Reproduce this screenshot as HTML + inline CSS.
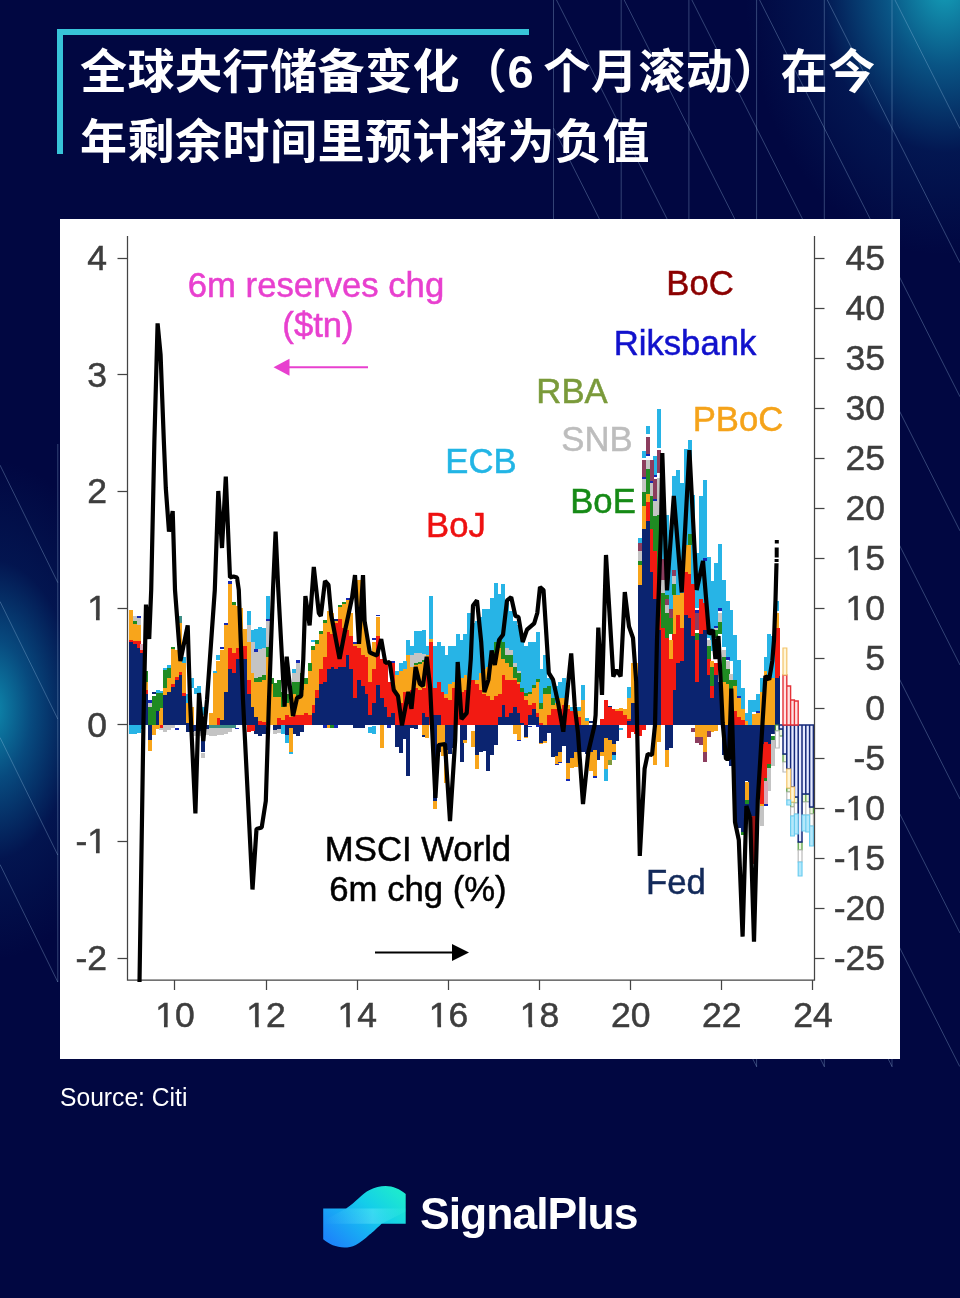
<!DOCTYPE html>
<html lang="zh-CN">
<head>
<meta charset="utf-8">
<title>全球央行储备变化</title>
<style>
*{margin:0;padding:0;box-sizing:border-box}
html,body{width:960px;height:1298px;overflow:hidden;background:#010741}
body{position:relative;font-family:"Liberation Sans","Noto Sans CJK SC",sans-serif}
.bg{position:absolute;left:0;top:0;width:960px;height:1298px;
 background:
  radial-gradient(ellipse 140px 250px at -8px 710px, rgba(14,138,174,1), rgba(10,98,148,.74) 28%, rgba(6,50,110,.32) 60%, rgba(3,8,64,0) 100%),
  radial-gradient(ellipse 200px 270px at 945px -15px, rgba(20,160,185,1), rgba(12,110,155,.75) 30%, rgba(6,55,115,.32) 62%, rgba(3,8,64,0) 100%),
  #010741}
.lines{position:absolute;left:0;top:0}
.brk-t{position:absolute;left:57px;top:29px;width:472px;height:6px;background:#38c4d8}
.brk-l{position:absolute;left:57px;top:29px;width:6px;height:125px;background:#38c4d8}
h1{position:absolute;left:80px;top:37px;width:860px;font-family:"Liberation Sans","Noto Sans CJK SC",sans-serif;
 font-weight:700;font-size:47px;line-height:70px;color:#fff;letter-spacing:0.5px;white-space:nowrap}
.six{letter-spacing:-1.7px}
.panel{position:absolute;left:60px;top:219px;width:840px;height:840px;background:#fff;overflow:hidden}
.chart{display:block}
.src{position:absolute;left:60px;top:1081px;font-size:26.5px;line-height:32px;color:#fff;white-space:nowrap;transform:scaleX(.93);transform-origin:0 0}
.logo{position:absolute;left:322px;top:1184px}
.brand{position:absolute;left:420px;top:1186.5px;font-weight:700;font-size:44.5px;line-height:54px;color:#fff;white-space:nowrap;letter-spacing:-1px}
</style>
</head>
<body>
<div class="bg"></div>
<svg class="lines" width="960" height="1298" viewBox="0 0 960 1298">
<g stroke="#a9cdf0" stroke-opacity=".3" stroke-width="1" fill="none">
<path d="M553.5 0V219"/>
<path d="M621.2 0V219"/>
<path d="M688.9 0V219"/>
<path d="M756.6 0V1067"/>
<path d="M824.3 0V1067"/>
<path d="M892.0 0V1067"/>
<path d="M553.5 932.5L617.4 1059.0"/>
<path d="M553.5 798.4L685.1 1059.0"/>
<path d="M553.5 664.4L756.6 1066.5"/>
<path d="M553.5 530.3L824.3 1066.5"/>
<path d="M553.5 396.2L892.0 1066.5"/>
<path d="M553.5 262.2L959.7 1066.5"/>
<path d="M553.5 128.1L960.0 933.1"/>
<path d="M556.5 0.0L960.0 799.0"/>
<path d="M624.2 0.0L960.0 665.0"/>
<path d="M691.9 0.0L960.0 530.9"/>
<path d="M759.6 0.0L960.0 396.8"/>
<path d="M827.3 0.0L960.0 262.8"/>
<path d="M895.0 0.0L960.0 128.7"/>
<path d="M57.8 444V982"/>
<path d="M0 465.1L57.8 582.6"/>
<path d="M0 601.5L57.8 719.0"/>
<path d="M0 737.5L57.8 855.0"/>
<path d="M0 864.5L57.8 982.0"/>
</g>
</svg>
<div class="brk-t"></div><div class="brk-l"></div>
<h1>全球央行储备变化（<span class="six">6 </span>个月滚动）在今<br>年剩余时间里预计将为负值</h1>
<div class="panel">
<svg class="chart" width="840" height="840" viewBox="60 219 840 840">
<g shape-rendering="crispEdges">
<path fill="#0b2470" d="M128.9 642.1h4.05V725.0h-4.05zM132.7 644.2h4.05V725.0h-4.05zM136.5 648.3h4.05V725.0h-4.05zM140.3 652.5h4.05V725.0h-4.05zM144.1 694.2h4.05V725.0h-4.05zM147.9 725.0h4.05V740.0h-4.05zM151.7 692.1h4.05V694.2h-4.05zM155.5 710.8h4.05V725.0h-4.05zM163.1 695.2h4.05V725.0h-4.05zM166.9 692.1h4.05V725.0h-4.05zM170.7 686.9h4.05V725.0h-4.05zM174.5 679.6h4.05V725.0h-4.05zM178.3 675.4h4.05V725.0h-4.05zM182.1 696.2h4.05V725.0h-4.05zM185.9 723.3h4.05V725.0h-4.05zM185.9 725.0h4.05V731.7h-4.05zM189.7 725.0h4.05V731.7h-4.05zM193.5 725.0h4.05V730.6h-4.05zM197.3 725.0h4.05V730.6h-4.05zM201.1 725.0h4.05V751.7h-4.05zM204.9 725.0h4.05V728.5h-4.05zM220.1 720.2h4.05V725.0h-4.05zM223.9 692.1h4.05V725.0h-4.05zM227.7 669.2h4.05V725.0h-4.05zM231.5 673.3h4.05V725.0h-4.05zM235.3 658.8h4.05V725.0h-4.05zM239.1 658.8h4.05V725.0h-4.05zM242.9 658.8h4.05V725.0h-4.05zM246.7 694.2h4.05V725.0h-4.05zM250.5 706.7h4.05V725.0h-4.05zM254.3 717.1h4.05V725.0h-4.05zM254.3 725.0h4.05V733.8h-4.05zM258.1 725.0h4.05V735.8h-4.05zM261.9 725.0h4.05V733.8h-4.05zM273.3 725.0h4.05V729.6h-4.05zM277.1 725.0h4.05V729.2h-4.05zM284.7 725.0h4.05V735.0h-4.05zM288.5 725.0h4.05V728.3h-4.05zM292.3 725.0h4.05V733.8h-4.05zM296.1 725.0h4.05V735.8h-4.05zM299.9 725.0h4.05V731.7h-4.05zM311.3 712.9h4.05V725.0h-4.05zM315.1 698.3h4.05V725.0h-4.05zM318.9 683.8h4.05V725.0h-4.05zM322.7 681.7h4.05V725.0h-4.05zM326.5 669.2h4.05V725.0h-4.05zM330.3 667.1h4.05V725.0h-4.05zM334.1 669.2h4.05V725.0h-4.05zM334.1 619.2h4.05V621.2h-4.05zM337.9 667.1h4.05V725.0h-4.05zM341.7 667.1h4.05V725.0h-4.05zM345.5 654.6h4.05V725.0h-4.05zM349.3 669.2h4.05V725.0h-4.05zM353.1 698.3h4.05V725.0h-4.05zM353.1 725.0h4.05V727.9h-4.05zM356.9 679.6h4.05V725.0h-4.05zM356.9 725.0h4.05V727.9h-4.05zM360.7 685.8h4.05V725.0h-4.05zM360.7 725.0h4.05V727.9h-4.05zM364.5 694.2h4.05V725.0h-4.05zM368.3 715.0h4.05V725.0h-4.05zM372.1 702.5h4.05V725.0h-4.05zM375.9 684.8h4.05V725.0h-4.05zM379.7 698.3h4.05V725.0h-4.05zM383.5 706.7h4.05V725.0h-4.05zM387.3 717.1h4.05V725.0h-4.05zM391.1 712.9h4.05V725.0h-4.05zM394.9 725.0h4.05V746.9h-4.05zM398.7 725.0h4.05V753.1h-4.05zM402.5 725.0h4.05V738.5h-4.05zM406.3 725.0h4.05V776.0h-4.05zM410.1 725.0h4.05V728.1h-4.05zM413.9 725.0h4.05V729.2h-4.05zM421.5 712.9h4.05V725.0h-4.05zM421.5 735.4h4.05V736.5h-4.05zM425.3 717.1h4.05V725.0h-4.05zM432.9 715.0h4.05V725.0h-4.05zM432.9 725.0h4.05V801.0h-4.05zM436.7 715.0h4.05V725.0h-4.05zM436.7 743.8h4.05V752.1h-4.05zM444.3 725.0h4.05V750.0h-4.05zM448.1 725.0h4.05V754.2h-4.05zM451.9 725.0h4.05V747.9h-4.05zM459.5 725.0h4.05V761.5h-4.05zM463.3 725.0h4.05V739.6h-4.05zM474.7 725.0h4.05V755.2h-4.05zM478.5 725.0h4.05V752.1h-4.05zM482.3 725.0h4.05V751.0h-4.05zM486.1 725.0h4.05V770.8h-4.05zM489.9 725.0h4.05V755.2h-4.05zM493.7 725.0h4.05V744.8h-4.05zM497.5 717.1h4.05V725.0h-4.05zM501.3 704.6h4.05V725.0h-4.05zM505.1 717.1h4.05V725.0h-4.05zM508.9 712.9h4.05V725.0h-4.05zM512.7 706.7h4.05V725.0h-4.05zM516.5 712.9h4.05V725.0h-4.05zM520.3 723.3h4.05V725.0h-4.05zM524.1 725.0h4.05V736.5h-4.05zM527.9 715.0h4.05V725.0h-4.05zM531.7 708.8h4.05V725.0h-4.05zM535.5 717.1h4.05V725.0h-4.05zM539.3 725.0h4.05V742.7h-4.05zM543.1 725.0h4.05V740.6h-4.05zM546.9 725.0h4.05V733.3h-4.05zM550.7 725.0h4.05V757.3h-4.05zM554.5 725.0h4.05V756.2h-4.05zM558.3 725.0h4.05V752.1h-4.05zM562.1 725.0h4.05V745.8h-4.05zM565.9 725.0h4.05V762.5h-4.05zM569.7 725.0h4.05V758.3h-4.05zM573.5 725.0h4.05V752.1h-4.05zM577.3 725.0h4.05V752.1h-4.05zM581.1 725.0h4.05V752.1h-4.05zM584.9 725.0h4.05V754.2h-4.05zM588.7 721.2h4.05V723.3h-4.05zM588.7 725.0h4.05V752.1h-4.05zM592.5 725.0h4.05V750.0h-4.05zM596.3 725.0h4.05V760.4h-4.05zM600.1 725.0h4.05V752.1h-4.05zM603.9 725.0h4.05V737.5h-4.05zM607.7 705.6h4.05V706.7h-4.05zM607.7 725.0h4.05V739.6h-4.05zM611.5 725.0h4.05V743.8h-4.05zM611.5 752.1h4.05V755.2h-4.05zM615.3 725.0h4.05V740.6h-4.05zM626.7 721.2h4.05V725.0h-4.05zM630.5 702.5h4.05V725.0h-4.05zM634.3 681.7h4.05V725.0h-4.05zM638.1 585.2h4.05V725.0h-4.05zM641.9 529.2h4.05V725.0h-4.05zM645.7 520.8h4.05V725.0h-4.05zM649.5 571.7h4.05V725.0h-4.05zM653.3 598.8h4.05V725.0h-4.05zM657.1 630.0h4.05V725.0h-4.05zM664.7 725.0h4.05V750.4h-4.05zM668.5 725.0h4.05V748.3h-4.05zM672.3 690.0h4.05V725.0h-4.05zM676.1 662.9h4.05V725.0h-4.05zM679.9 660.8h4.05V725.0h-4.05zM683.7 615.4h4.05V725.0h-4.05zM687.5 617.5h4.05V725.0h-4.05zM691.3 636.2h4.05V725.0h-4.05zM695.1 681.7h4.05V725.0h-4.05zM698.9 634.2h4.05V725.0h-4.05zM702.7 630.0h4.05V725.0h-4.05zM706.5 675.4h4.05V725.0h-4.05zM710.3 698.3h4.05V725.0h-4.05zM714.1 675.4h4.05V725.0h-4.05zM717.9 681.7h4.05V725.0h-4.05zM721.7 725.0h4.05V754.6h-4.05zM725.5 725.0h4.05V758.8h-4.05zM729.3 725.0h4.05V766.2h-4.05zM733.1 725.0h4.05V823.3h-4.05zM736.9 725.0h4.05V827.5h-4.05zM740.7 725.0h4.05V831.7h-4.05zM744.5 725.0h4.05V780.8h-4.05zM744.5 803.8h4.05V814.2h-4.05zM748.3 725.0h4.05V816.2h-4.05zM752.1 725.0h4.05V816.2h-4.05zM755.9 725.0h4.05V797.5h-4.05zM759.7 725.0h4.05V744.2h-4.05zM763.5 725.0h4.05V742.1h-4.05zM767.3 725.0h4.05V744.2h-4.05zM771.1 725.0h4.05V733.8h-4.05zM774.9 677.5h4.05V725.0h-4.05zM776.0 676.0h4.05V725.0h-4.05z"/>
<path fill="#f21a12" d="M128.9 640.0h4.05V642.1h-4.05zM132.7 640.6h4.05V644.2h-4.05zM136.5 641.0h4.05V648.3h-4.05zM140.3 650.4h4.05V652.5h-4.05zM144.1 690.0h4.05V694.2h-4.05zM159.3 725.0h4.05V727.5h-4.05zM170.7 683.8h4.05V686.9h-4.05zM174.5 676.5h4.05V679.6h-4.05zM178.3 672.3h4.05V675.4h-4.05zM182.1 693.1h4.05V696.2h-4.05zM216.3 718.1h4.05V725.0h-4.05zM227.7 648.3h4.05V669.2h-4.05zM231.5 652.5h4.05V673.3h-4.05zM235.3 648.3h4.05V658.8h-4.05zM239.1 650.4h4.05V658.8h-4.05zM242.9 646.2h4.05V658.8h-4.05zM246.7 679.6h4.05V694.2h-4.05zM246.7 725.0h4.05V731.7h-4.05zM250.5 725.0h4.05V731.2h-4.05zM258.1 721.2h4.05V725.0h-4.05zM261.9 722.3h4.05V725.0h-4.05zM277.1 718.1h4.05V725.0h-4.05zM280.9 720.2h4.05V725.0h-4.05zM284.7 715.0h4.05V725.0h-4.05zM288.5 717.1h4.05V725.0h-4.05zM292.3 715.0h4.05V725.0h-4.05zM296.1 715.0h4.05V725.0h-4.05zM299.9 715.0h4.05V725.0h-4.05zM303.7 712.9h4.05V725.0h-4.05zM307.5 715.0h4.05V725.0h-4.05zM311.3 704.6h4.05V712.9h-4.05zM315.1 690.0h4.05V698.3h-4.05zM318.9 669.2h4.05V683.8h-4.05zM322.7 656.7h4.05V681.7h-4.05zM326.5 631.7h4.05V669.2h-4.05zM330.3 633.8h4.05V667.1h-4.05zM334.1 623.3h4.05V669.2h-4.05zM337.9 619.2h4.05V667.1h-4.05zM341.7 627.5h4.05V667.1h-4.05zM345.5 629.6h4.05V654.6h-4.05zM349.3 635.8h4.05V669.2h-4.05zM353.1 646.2h4.05V698.3h-4.05zM356.9 648.3h4.05V679.6h-4.05zM360.7 654.6h4.05V685.8h-4.05zM364.5 656.7h4.05V694.2h-4.05zM368.3 681.7h4.05V715.0h-4.05zM372.1 669.2h4.05V702.5h-4.05zM375.9 635.8h4.05V684.8h-4.05zM379.7 658.8h4.05V698.3h-4.05zM383.5 662.9h4.05V706.7h-4.05zM387.3 681.7h4.05V717.1h-4.05zM391.1 662.9h4.05V712.9h-4.05zM394.9 694.2h4.05V725.0h-4.05zM398.7 702.5h4.05V725.0h-4.05zM402.5 692.1h4.05V725.0h-4.05zM406.3 694.2h4.05V725.0h-4.05zM410.1 690.0h4.05V725.0h-4.05zM413.9 687.9h4.05V725.0h-4.05zM417.7 690.0h4.05V725.0h-4.05zM421.5 687.9h4.05V712.9h-4.05zM425.3 662.9h4.05V717.1h-4.05zM429.1 642.1h4.05V725.0h-4.05zM432.9 687.9h4.05V715.0h-4.05zM436.7 681.7h4.05V715.0h-4.05zM440.5 692.1h4.05V725.0h-4.05zM444.3 698.3h4.05V725.0h-4.05zM448.1 700.4h4.05V725.0h-4.05zM451.9 687.9h4.05V725.0h-4.05zM455.7 687.9h4.05V725.0h-4.05zM459.5 692.1h4.05V725.0h-4.05zM463.3 690.0h4.05V725.0h-4.05zM467.1 685.8h4.05V725.0h-4.05zM470.9 679.6h4.05V725.0h-4.05zM474.7 683.8h4.05V725.0h-4.05zM478.5 690.0h4.05V725.0h-4.05zM482.3 694.2h4.05V725.0h-4.05zM486.1 696.2h4.05V725.0h-4.05zM489.9 700.4h4.05V725.0h-4.05zM493.7 696.2h4.05V725.0h-4.05zM497.5 694.2h4.05V717.1h-4.05zM501.3 675.4h4.05V704.6h-4.05zM505.1 679.6h4.05V717.1h-4.05zM508.9 679.6h4.05V712.9h-4.05zM512.7 679.6h4.05V706.7h-4.05zM516.5 683.8h4.05V712.9h-4.05zM520.3 692.1h4.05V723.3h-4.05zM524.1 700.4h4.05V725.0h-4.05zM527.9 704.6h4.05V715.0h-4.05zM531.7 702.5h4.05V708.8h-4.05zM535.5 712.9h4.05V717.1h-4.05zM539.3 723.3h4.05V725.0h-4.05zM546.9 715.0h4.05V725.0h-4.05zM550.7 708.8h4.05V725.0h-4.05zM554.5 708.8h4.05V725.0h-4.05zM558.3 708.8h4.05V725.0h-4.05zM562.1 704.6h4.05V725.0h-4.05zM565.9 708.8h4.05V725.0h-4.05zM569.7 710.8h4.05V725.0h-4.05zM573.5 715.0h4.05V725.0h-4.05zM577.3 717.1h4.05V725.0h-4.05zM600.1 719.2h4.05V725.0h-4.05zM603.9 700.4h4.05V725.0h-4.05zM607.7 706.7h4.05V725.0h-4.05zM611.5 708.8h4.05V725.0h-4.05zM615.3 710.8h4.05V725.0h-4.05zM619.1 710.8h4.05V725.0h-4.05zM622.9 715.0h4.05V725.0h-4.05zM626.7 719.2h4.05V721.2h-4.05zM626.7 725.0h4.05V737.5h-4.05zM630.5 725.0h4.05V731.7h-4.05zM634.3 725.0h4.05V733.8h-4.05zM638.1 725.0h4.05V735.8h-4.05zM641.9 725.0h4.05V729.6h-4.05zM645.7 502.1h4.05V520.8h-4.05zM649.5 529.2h4.05V571.7h-4.05zM653.3 550.8h4.05V598.8h-4.05zM657.1 577.5h4.05V630.0h-4.05zM660.9 627.9h4.05V725.0h-4.05zM664.7 638.3h4.05V725.0h-4.05zM668.5 658.8h4.05V725.0h-4.05zM672.3 634.2h4.05V690.0h-4.05zM676.1 615.4h4.05V662.9h-4.05zM679.9 627.9h4.05V660.8h-4.05zM683.7 571.7h4.05V615.4h-4.05zM687.5 573.8h4.05V617.5h-4.05zM691.3 584.2h4.05V636.2h-4.05zM695.1 640.0h4.05V681.7h-4.05zM698.9 598.8h4.05V634.2h-4.05zM702.7 602.9h4.05V630.0h-4.05zM706.5 658.8h4.05V675.4h-4.05zM710.3 685.8h4.05V698.3h-4.05zM714.1 662.9h4.05V675.4h-4.05zM733.1 710.8h4.05V725.0h-4.05zM736.9 717.1h4.05V725.0h-4.05zM740.7 720.2h4.05V725.0h-4.05zM759.7 744.2h4.05V804.0h-4.05zM763.5 742.1h4.05V778.1h-4.05zM767.3 744.2h4.05V764.2h-4.05zM771.1 719.2h4.05V725.0h-4.05zM774.9 627.9h4.05V677.5h-4.05zM776.0 628.0h4.05V676.0h-4.05z"/>
<path fill="#f8a51b" d="M128.9 609.8h4.05V640.0h-4.05zM132.7 624.4h4.05V640.6h-4.05zM136.5 625.4h4.05V641.0h-4.05zM144.1 681.7h4.05V690.0h-4.05zM147.9 740.0h4.05V750.8h-4.05zM151.7 725.0h4.05V734.8h-4.05zM155.5 725.0h4.05V729.2h-4.05zM159.3 707.7h4.05V725.0h-4.05zM163.1 687.9h4.05V695.2h-4.05zM166.9 677.5h4.05V692.1h-4.05zM170.7 649.4h4.05V683.8h-4.05zM174.5 650.4h4.05V676.5h-4.05zM178.3 623.3h4.05V672.3h-4.05zM182.1 662.9h4.05V693.1h-4.05zM185.9 702.5h4.05V723.3h-4.05zM189.7 706.7h4.05V725.0h-4.05zM208.7 712.9h4.05V725.0h-4.05zM212.5 673.3h4.05V725.0h-4.05zM216.3 660.8h4.05V718.1h-4.05zM220.1 650.4h4.05V720.2h-4.05zM223.9 625.4h4.05V692.1h-4.05zM227.7 583.8h4.05V648.3h-4.05zM231.5 604.6h4.05V652.5h-4.05zM235.3 605.6h4.05V648.3h-4.05zM239.1 607.7h4.05V650.4h-4.05zM242.9 628.5h4.05V646.2h-4.05zM246.7 642.1h4.05V679.6h-4.05zM250.5 673.3h4.05V706.7h-4.05zM254.3 681.7h4.05V717.1h-4.05zM258.1 681.7h4.05V721.2h-4.05zM261.9 679.6h4.05V722.3h-4.05zM265.7 656.7h4.05V725.0h-4.05zM269.5 683.8h4.05V725.0h-4.05zM273.3 697.3h4.05V725.0h-4.05zM277.1 697.3h4.05V718.1h-4.05zM280.9 706.7h4.05V720.2h-4.05zM284.7 702.5h4.05V715.0h-4.05zM288.5 698.3h4.05V717.1h-4.05zM288.5 728.3h4.05V751.7h-4.05zM292.3 694.2h4.05V715.0h-4.05zM296.1 696.2h4.05V715.0h-4.05zM299.9 690.0h4.05V715.0h-4.05zM303.7 683.8h4.05V712.9h-4.05zM307.5 671.2h4.05V715.0h-4.05zM311.3 650.4h4.05V704.6h-4.05zM315.1 644.2h4.05V690.0h-4.05zM318.9 633.8h4.05V669.2h-4.05zM322.7 623.3h4.05V656.7h-4.05zM326.5 610.8h4.05V631.7h-4.05zM326.5 725.0h4.05V727.5h-4.05zM330.3 612.9h4.05V633.8h-4.05zM334.1 621.2h4.05V623.3h-4.05zM337.9 606.7h4.05V619.2h-4.05zM341.7 603.5h4.05V627.5h-4.05zM345.5 600.4h4.05V629.6h-4.05zM349.3 612.9h4.05V635.8h-4.05zM353.1 644.2h4.05V646.2h-4.05zM356.9 580.0h4.05V648.3h-4.05zM360.7 610.8h4.05V654.6h-4.05zM364.5 635.8h4.05V656.7h-4.05zM368.3 654.6h4.05V681.7h-4.05zM372.1 642.1h4.05V669.2h-4.05zM375.9 617.1h4.05V635.8h-4.05zM379.7 725.0h4.05V747.9h-4.05zM394.9 675.4h4.05V694.2h-4.05zM398.7 671.2h4.05V702.5h-4.05zM402.5 669.2h4.05V692.1h-4.05zM406.3 654.6h4.05V694.2h-4.05zM410.1 667.1h4.05V690.0h-4.05zM413.9 665.0h4.05V687.9h-4.05zM417.7 664.0h4.05V690.0h-4.05zM421.5 661.9h4.05V687.9h-4.05zM421.5 725.0h4.05V735.4h-4.05zM425.3 654.6h4.05V662.9h-4.05zM425.3 725.0h4.05V737.5h-4.05zM429.1 639.0h4.05V642.1h-4.05zM432.9 801.0h4.05V809.4h-4.05zM436.7 725.0h4.05V743.8h-4.05zM440.5 725.0h4.05V756.2h-4.05zM444.3 694.2h4.05V698.3h-4.05zM444.3 750.0h4.05V783.3h-4.05zM448.1 683.8h4.05V700.4h-4.05zM451.9 681.7h4.05V687.9h-4.05zM455.7 683.8h4.05V687.9h-4.05zM459.5 677.5h4.05V692.1h-4.05zM463.3 675.4h4.05V690.0h-4.05zM463.3 739.6h4.05V742.7h-4.05zM467.1 677.5h4.05V685.8h-4.05zM470.9 731.2h4.05V746.9h-4.05zM474.7 679.6h4.05V683.8h-4.05zM474.7 755.2h4.05V768.8h-4.05zM478.5 673.3h4.05V690.0h-4.05zM482.3 669.2h4.05V694.2h-4.05zM486.1 667.1h4.05V696.2h-4.05zM489.9 662.9h4.05V700.4h-4.05zM493.7 652.5h4.05V696.2h-4.05zM497.5 648.3h4.05V694.2h-4.05zM501.3 658.8h4.05V675.4h-4.05zM505.1 662.9h4.05V679.6h-4.05zM508.9 667.1h4.05V679.6h-4.05zM512.7 677.5h4.05V679.6h-4.05zM512.7 725.0h4.05V734.4h-4.05zM516.5 681.7h4.05V683.8h-4.05zM516.5 725.0h4.05V739.6h-4.05zM524.1 696.2h4.05V700.4h-4.05zM524.1 736.5h4.05V737.9h-4.05zM527.9 694.2h4.05V704.6h-4.05zM531.7 687.9h4.05V702.5h-4.05zM535.5 681.7h4.05V712.9h-4.05zM539.3 708.8h4.05V723.3h-4.05zM539.3 742.7h4.05V744.2h-4.05zM543.1 694.2h4.05V725.0h-4.05zM543.1 740.6h4.05V742.7h-4.05zM546.9 694.2h4.05V715.0h-4.05zM550.7 704.6h4.05V708.8h-4.05zM554.5 702.5h4.05V708.8h-4.05zM554.5 756.2h4.05V763.5h-4.05zM558.3 698.3h4.05V708.8h-4.05zM558.3 752.1h4.05V761.5h-4.05zM562.1 698.3h4.05V704.6h-4.05zM565.9 704.6h4.05V708.8h-4.05zM565.9 762.5h4.05V779.2h-4.05zM569.7 758.3h4.05V767.7h-4.05zM573.5 706.7h4.05V715.0h-4.05zM573.5 752.1h4.05V766.7h-4.05zM577.3 710.8h4.05V717.1h-4.05zM581.1 700.4h4.05V725.0h-4.05zM584.9 721.2h4.05V725.0h-4.05zM588.7 752.1h4.05V770.8h-4.05zM592.5 750.0h4.05V776.0h-4.05zM600.1 752.1h4.05V756.2h-4.05zM603.9 737.5h4.05V768.8h-4.05zM607.7 739.6h4.05V760.4h-4.05zM611.5 743.8h4.05V752.1h-4.05zM615.3 708.8h4.05V710.8h-4.05zM619.1 707.7h4.05V710.8h-4.05zM622.9 708.8h4.05V715.0h-4.05zM626.7 698.3h4.05V719.2h-4.05zM630.5 662.9h4.05V702.5h-4.05zM634.3 662.9h4.05V681.7h-4.05zM638.1 565.4h4.05V585.2h-4.05zM641.9 506.2h4.05V529.2h-4.05zM645.7 493.8h4.05V502.1h-4.05zM653.3 725.0h4.05V765.0h-4.05zM657.1 725.0h4.05V742.1h-4.05zM664.7 750.4h4.05V767.1h-4.05zM668.5 640.0h4.05V658.8h-4.05zM672.3 594.6h4.05V634.2h-4.05zM676.1 594.6h4.05V615.4h-4.05zM679.9 592.5h4.05V627.9h-4.05zM683.7 544.6h4.05V571.7h-4.05zM687.5 544.6h4.05V573.8h-4.05zM695.1 725.0h4.05V736.9h-4.05zM698.9 725.0h4.05V736.9h-4.05zM702.7 725.0h4.05V751.5h-4.05zM706.5 725.0h4.05V730.6h-4.05zM710.3 660.8h4.05V667.1h-4.05zM710.3 725.0h4.05V731.7h-4.05zM714.1 725.0h4.05V730.6h-4.05zM721.7 681.7h4.05V725.0h-4.05zM725.5 683.8h4.05V725.0h-4.05zM729.3 702.5h4.05V725.0h-4.05zM733.1 685.8h4.05V710.8h-4.05zM736.9 698.3h4.05V717.1h-4.05zM740.7 708.8h4.05V720.2h-4.05zM744.5 721.2h4.05V725.0h-4.05zM744.5 781.9h4.05V799.6h-4.05zM752.1 714.0h4.05V725.0h-4.05zM755.9 712.9h4.05V725.0h-4.05zM759.7 692.1h4.05V725.0h-4.05zM759.7 804.0h4.05V806.0h-4.05zM763.5 671.2h4.05V725.0h-4.05zM767.3 679.6h4.05V725.0h-4.05zM771.1 677.5h4.05V725.0h-4.05zM774.9 613.3h4.05V627.9h-4.05z"/>
<path fill="#27b4e6" d="M128.9 725.0h4.05V733.8h-4.05zM132.7 725.0h4.05V733.8h-4.05zM136.5 725.0h4.05V732.7h-4.05zM140.3 725.0h4.05V728.5h-4.05zM155.5 690.4h4.05V693.1h-4.05zM159.3 691.0h4.05V693.1h-4.05zM163.1 668.1h4.05V670.2h-4.05zM166.9 665.4h4.05V668.1h-4.05zM182.1 656.7h4.05V662.9h-4.05zM185.9 694.2h4.05V702.5h-4.05zM189.7 677.5h4.05V687.9h-4.05zM193.5 687.9h4.05V694.2h-4.05zM197.3 685.8h4.05V694.2h-4.05zM201.1 706.7h4.05V715.0h-4.05zM212.5 670.8h4.05V673.3h-4.05zM216.3 654.6h4.05V659.8h-4.05zM246.7 610.8h4.05V625.4h-4.05zM250.5 629.6h4.05V642.1h-4.05zM254.3 628.5h4.05V649.4h-4.05zM258.1 626.5h4.05V649.4h-4.05zM261.9 627.5h4.05V648.3h-4.05zM265.7 596.2h4.05V619.2h-4.05zM280.9 725.4h4.05V733.8h-4.05zM284.7 735.0h4.05V742.5h-4.05zM288.5 751.7h4.05V754.2h-4.05zM292.3 669.2h4.05V673.3h-4.05zM311.3 640.0h4.05V642.1h-4.05zM368.3 727.1h4.05V733.3h-4.05zM372.1 726.0h4.05V734.4h-4.05zM394.9 671.2h4.05V675.4h-4.05zM398.7 662.9h4.05V671.2h-4.05zM402.5 660.8h4.05V669.2h-4.05zM406.3 640.0h4.05V654.6h-4.05zM410.1 646.2h4.05V654.6h-4.05zM413.9 630.6h4.05V652.5h-4.05zM417.7 630.6h4.05V652.5h-4.05zM421.5 629.6h4.05V653.5h-4.05zM425.3 646.2h4.05V654.6h-4.05zM429.1 596.2h4.05V639.0h-4.05zM432.9 646.2h4.05V687.9h-4.05zM436.7 642.1h4.05V681.7h-4.05zM440.5 646.2h4.05V692.1h-4.05zM444.3 654.6h4.05V694.2h-4.05zM448.1 646.2h4.05V683.8h-4.05zM451.9 646.2h4.05V681.7h-4.05zM455.7 633.8h4.05V683.8h-4.05zM459.5 640.0h4.05V677.5h-4.05zM463.3 633.8h4.05V675.4h-4.05zM467.1 612.9h4.05V677.5h-4.05zM470.9 623.3h4.05V679.6h-4.05zM474.7 621.2h4.05V679.6h-4.05zM478.5 617.1h4.05V673.3h-4.05zM482.3 608.8h4.05V669.2h-4.05zM486.1 608.8h4.05V667.1h-4.05zM489.9 598.3h4.05V662.9h-4.05zM493.7 582.5h4.05V642.1h-4.05zM497.5 594.2h4.05V640.0h-4.05zM501.3 584.0h4.05V642.1h-4.05zM505.1 602.5h4.05V648.3h-4.05zM508.9 610.8h4.05V650.4h-4.05zM512.7 621.2h4.05V662.9h-4.05zM516.5 625.4h4.05V671.2h-4.05zM520.3 637.9h4.05V687.9h-4.05zM524.1 646.2h4.05V693.1h-4.05zM527.9 642.1h4.05V692.1h-4.05zM531.7 642.1h4.05V684.8h-4.05zM535.5 631.7h4.05V678.5h-4.05zM539.3 669.2h4.05V702.5h-4.05zM543.1 654.6h4.05V687.9h-4.05zM546.9 677.5h4.05V685.8h-4.05zM550.7 679.6h4.05V698.3h-4.05zM554.5 685.8h4.05V702.5h-4.05zM558.3 681.7h4.05V698.3h-4.05zM562.1 677.5h4.05V698.3h-4.05zM569.7 706.7h4.05V710.8h-4.05zM577.3 706.7h4.05V710.8h-4.05zM581.1 684.8h4.05V700.4h-4.05zM584.9 718.1h4.05V721.2h-4.05zM603.9 768.8h4.05V781.2h-4.05zM611.5 755.2h4.05V760.4h-4.05zM619.1 728.1h4.05V730.2h-4.05zM626.7 686.9h4.05V698.3h-4.05zM638.1 538.3h4.05V542.5h-4.05zM641.9 451.0h4.05V458.3h-4.05zM645.7 426.0h4.05V434.4h-4.05zM653.3 456.2h4.05V475.0h-4.05zM657.1 409.4h4.05V447.9h-4.05zM660.9 494.2h4.05V559.2h-4.05zM664.7 515.0h4.05V594.6h-4.05zM668.5 530.0h4.05V609.2h-4.05zM672.3 476.0h4.05V569.6h-4.05zM676.1 469.8h4.05V594.6h-4.05zM679.9 483.3h4.05V592.5h-4.05zM683.7 449.0h4.05V544.6h-4.05zM687.5 439.6h4.05V534.2h-4.05zM691.3 494.8h4.05V584.2h-4.05zM695.1 552.9h4.05V608.3h-4.05zM698.9 495.8h4.05V598.8h-4.05zM702.7 480.2h4.05V602.9h-4.05zM706.5 557.1h4.05V638.3h-4.05zM710.3 581.0h4.05V650.8h-4.05zM714.1 563.3h4.05V625.8h-4.05zM717.9 543.5h4.05V609.2h-4.05zM721.7 580.0h4.05V646.7h-4.05zM725.5 600.8h4.05V656.7h-4.05zM729.3 610.2h4.05V661.2h-4.05zM733.1 635.2h4.05V679.6h-4.05zM736.9 660.2h4.05V696.2h-4.05zM740.7 687.9h4.05V708.8h-4.05zM744.5 712.9h4.05V721.2h-4.05zM748.3 700.4h4.05V725.0h-4.05zM752.1 700.4h4.05V711.9h-4.05zM755.9 694.2h4.05V710.8h-4.05zM759.7 677.5h4.05V692.1h-4.05zM763.5 656.7h4.05V671.2h-4.05zM767.3 634.2h4.05V679.6h-4.05zM771.1 635.8h4.05V677.5h-4.05zM774.9 600.8h4.05V611.2h-4.05z"/>
<path fill="#1f8b22" d="M132.7 621.2h4.05V624.4h-4.05zM144.1 671.2h4.05V681.7h-4.05zM147.9 706.7h4.05V725.0h-4.05zM151.7 696.2h4.05V725.0h-4.05zM155.5 693.1h4.05V710.8h-4.05zM159.3 693.1h4.05V707.7h-4.05zM163.1 670.2h4.05V687.9h-4.05zM166.9 668.1h4.05V677.5h-4.05zM170.7 646.7h4.05V649.4h-4.05zM231.5 602.1h4.05V604.6h-4.05zM254.3 677.5h4.05V681.7h-4.05zM258.1 676.5h4.05V681.7h-4.05zM261.9 675.4h4.05V679.6h-4.05zM265.7 647.3h4.05V656.7h-4.05zM269.5 677.5h4.05V683.8h-4.05zM273.3 682.7h4.05V697.3h-4.05zM277.1 679.6h4.05V697.3h-4.05zM280.9 692.1h4.05V706.7h-4.05zM284.7 694.2h4.05V702.5h-4.05zM288.5 692.1h4.05V698.3h-4.05zM292.3 681.7h4.05V694.2h-4.05zM296.1 681.7h4.05V696.2h-4.05zM299.9 673.3h4.05V690.0h-4.05zM303.7 677.5h4.05V683.8h-4.05zM307.5 662.9h4.05V671.2h-4.05zM311.3 646.2h4.05V650.4h-4.05zM315.1 640.0h4.05V644.2h-4.05zM318.9 630.6h4.05V633.8h-4.05zM322.7 620.2h4.05V623.3h-4.05zM330.3 725.0h4.05V727.5h-4.05zM337.9 604.6h4.05V606.7h-4.05zM341.7 601.5h4.05V603.5h-4.05zM413.9 662.9h4.05V665.0h-4.05zM417.7 661.9h4.05V664.0h-4.05zM421.5 659.8h4.05V661.9h-4.05zM493.7 642.1h4.05V652.5h-4.05zM497.5 640.0h4.05V648.3h-4.05zM501.3 642.1h4.05V658.8h-4.05zM505.1 654.6h4.05V662.9h-4.05zM508.9 654.6h4.05V667.1h-4.05zM512.7 667.1h4.05V677.5h-4.05zM516.5 673.3h4.05V681.7h-4.05zM520.3 687.9h4.05V692.1h-4.05zM524.1 693.1h4.05V696.2h-4.05zM527.9 692.1h4.05V694.2h-4.05zM531.7 684.8h4.05V687.9h-4.05zM535.5 678.5h4.05V681.7h-4.05zM539.3 702.5h4.05V708.8h-4.05zM543.1 687.9h4.05V694.2h-4.05zM546.9 685.8h4.05V694.2h-4.05zM550.7 698.3h4.05V704.6h-4.05zM638.1 561.2h4.05V565.4h-4.05zM641.9 491.7h4.05V506.2h-4.05zM645.7 468.8h4.05V493.8h-4.05zM649.5 495.8h4.05V529.2h-4.05zM653.3 516.2h4.05V550.8h-4.05zM657.1 515.0h4.05V577.5h-4.05zM660.9 592.5h4.05V627.9h-4.05zM664.7 613.3h4.05V638.3h-4.05zM664.7 594.6h4.05V598.8h-4.05zM668.5 617.5h4.05V634.2h-4.05zM672.3 584.2h4.05V594.6h-4.05zM687.5 534.2h4.05V544.6h-4.05zM695.1 632.5h4.05V640.0h-4.05zM706.5 646.2h4.05V658.8h-4.05zM710.3 667.1h4.05V685.8h-4.05zM714.1 630.0h4.05V638.3h-4.05zM717.9 621.7h4.05V634.2h-4.05zM721.7 656.7h4.05V681.7h-4.05zM725.5 669.2h4.05V683.8h-4.05zM729.3 680.0h4.05V702.5h-4.05zM733.1 679.6h4.05V685.8h-4.05zM740.7 831.7h4.05V835.0h-4.05zM744.5 799.6h4.05V803.8h-4.05zM763.5 778.1h4.05V780.6h-4.05zM767.3 764.2h4.05V767.5h-4.05zM771.1 735.8h4.05V740.0h-4.05z"/>
<path fill="#c4c4c4" d="M132.7 616.0h4.05V621.2h-4.05zM136.5 618.1h4.05V625.4h-4.05zM147.9 702.5h4.05V706.7h-4.05zM159.3 727.5h4.05V730.0h-4.05zM163.1 725.0h4.05V731.7h-4.05zM166.9 725.0h4.05V730.0h-4.05zM170.7 725.0h4.05V727.5h-4.05zM189.7 731.7h4.05V735.8h-4.05zM193.5 730.6h4.05V735.8h-4.05zM197.3 730.6h4.05V735.8h-4.05zM201.1 752.7h4.05V757.9h-4.05zM204.9 728.5h4.05V734.8h-4.05zM208.7 727.9h4.05V735.8h-4.05zM212.5 727.9h4.05V735.8h-4.05zM216.3 727.9h4.05V735.4h-4.05zM220.1 727.9h4.05V734.8h-4.05zM223.9 727.9h4.05V733.8h-4.05zM227.7 727.5h4.05V731.7h-4.05zM246.7 625.4h4.05V642.1h-4.05zM250.5 642.1h4.05V673.3h-4.05zM254.3 651.5h4.05V677.5h-4.05zM258.1 649.4h4.05V676.5h-4.05zM261.9 648.3h4.05V675.4h-4.05zM265.7 621.2h4.05V647.3h-4.05zM273.3 729.6h4.05V733.8h-4.05zM277.1 729.2h4.05V733.3h-4.05zM292.3 673.3h4.05V681.7h-4.05zM296.1 662.9h4.05V681.7h-4.05zM410.1 654.6h4.05V667.1h-4.05zM413.9 652.5h4.05V662.9h-4.05zM417.7 652.5h4.05V661.9h-4.05zM421.5 653.5h4.05V659.8h-4.05zM505.1 648.3h4.05V654.6h-4.05zM508.9 650.4h4.05V654.6h-4.05zM512.7 662.9h4.05V667.1h-4.05zM516.5 671.2h4.05V673.3h-4.05zM638.1 550.8h4.05V561.2h-4.05zM641.9 479.2h4.05V491.7h-4.05zM645.7 460.4h4.05V468.8h-4.05zM649.5 483.3h4.05V495.8h-4.05zM653.3 501.2h4.05V516.2h-4.05zM657.1 477.5h4.05V515.0h-4.05zM660.9 580.0h4.05V592.5h-4.05zM664.7 605.0h4.05V613.3h-4.05zM672.3 575.8h4.05V584.2h-4.05zM706.5 640.0h4.05V646.2h-4.05zM714.1 627.9h4.05V630.0h-4.05zM717.9 613.3h4.05V621.7h-4.05zM721.7 650.4h4.05V656.7h-4.05zM725.5 660.8h4.05V669.2h-4.05zM729.3 673.8h4.05V680.0h-4.05zM759.7 806.0h4.05V826.2h-4.05zM767.3 767.5h4.05V790.8h-4.05zM771.1 740.0h4.05V766.2h-4.05z"/>
<path fill="#1428b4" d="M136.5 616.0h4.05V618.1h-4.05zM147.9 700.0h4.05V702.5h-4.05zM174.5 727.5h4.05V729.6h-4.05zM220.1 646.7h4.05V649.4h-4.05zM223.9 623.3h4.05V625.4h-4.05zM227.7 581.2h4.05V583.8h-4.05zM235.3 727.5h4.05V729.2h-4.05zM254.3 649.4h4.05V651.5h-4.05zM265.7 619.2h4.05V621.2h-4.05zM296.1 659.8h4.05V662.9h-4.05zM322.7 725.0h4.05V727.5h-4.05zM334.1 725.0h4.05V727.5h-4.05zM345.5 598.3h4.05V600.4h-4.05zM353.1 642.1h4.05V644.2h-4.05zM372.1 637.9h4.05V640.0h-4.05zM375.9 614.6h4.05V616.0h-4.05zM387.3 725.0h4.05V728.1h-4.05zM391.1 660.8h4.05V662.9h-4.05zM516.5 739.6h4.05V741.0h-4.05zM527.9 726.0h4.05V727.1h-4.05zM535.5 725.4h4.05V727.1h-4.05zM554.5 763.5h4.05V765.0h-4.05zM558.3 761.5h4.05V762.9h-4.05zM565.9 779.2h4.05V781.2h-4.05zM592.5 776.0h4.05V778.1h-4.05zM641.9 477.1h4.05V479.2h-4.05zM645.7 454.2h4.05V456.2h-4.05zM649.5 481.2h4.05V483.3h-4.05zM653.3 498.8h4.05V500.6h-4.05zM653.3 475.0h4.05V477.1h-4.05zM695.1 610.0h4.05V612.5h-4.05zM702.7 558.1h4.05V561.2h-4.05zM714.1 625.8h4.05V627.9h-4.05zM717.9 608.1h4.05V611.2h-4.05zM725.5 656.7h4.05V659.8h-4.05zM736.9 696.2h4.05V698.3h-4.05zM755.9 710.8h4.05V712.9h-4.05zM763.5 804.0h4.05V806.0h-4.05z"/>
<path fill="#d8a8b8" d="M140.3 644.2h4.05V650.4h-4.05zM763.5 780.6h4.05V804.0h-4.05z"/>
<path fill="#3f8f86" d="M178.3 616.0h4.05V623.3h-4.05zM208.7 725.0h4.05V727.9h-4.05zM212.5 725.0h4.05V727.9h-4.05zM216.3 725.0h4.05V727.9h-4.05zM220.1 725.0h4.05V727.9h-4.05zM223.9 725.0h4.05V727.9h-4.05zM227.7 725.0h4.05V727.5h-4.05zM231.5 725.0h4.05V727.5h-4.05z"/>
<path fill="#7f9a3b" d="M607.7 760.4h4.05V764.6h-4.05z"/>
<path fill="#8c3d5e" d="M638.1 542.5h4.05V550.8h-4.05zM641.9 460.4h4.05V477.1h-4.05zM645.7 436.5h4.05V454.2h-4.05zM649.5 460.4h4.05V481.2h-4.05zM653.3 478.8h4.05V498.8h-4.05zM657.1 450.0h4.05V473.3h-4.05zM660.9 559.2h4.05V580.0h-4.05zM664.7 598.8h4.05V605.0h-4.05zM668.5 609.2h4.05V617.5h-4.05zM672.3 569.6h4.05V575.8h-4.05zM691.3 727.5h4.05V731.7h-4.05zM695.1 613.3h4.05V630.0h-4.05zM695.1 736.9h4.05V743.1h-4.05zM698.9 736.9h4.05V745.2h-4.05zM702.7 751.5h4.05V761.9h-4.05zM706.5 730.6h4.05V736.9h-4.05z"/>
<path fill="#9a1414" d="M752.1 816.2h4.05V864.2h-4.05z"/>
</g>
<g stroke-width="1.2">
<path fill="#eef7e0" stroke="#4f9a3a" d="M775.4 725.0h3.80V731.0h-3.80zM779.2 729.0h3.80V736.0h-3.80zM783.0 754.0h3.80V762.0h-3.80zM786.8 788.0h3.80V792.0h-3.80zM790.6 802.0h3.80V807.0h-3.80zM794.4 797.0h3.80V803.0h-3.80zM798.2 842.0h3.80V850.0h-3.80zM802.0 794.0h3.80V802.0h-3.80zM805.8 794.0h3.80V802.0h-3.80zM809.6 807.0h3.80V814.0h-3.80z"/>
<path fill="#ffffff" stroke="#b9b9b9" d="M775.4 731.0h3.80V748.0h-3.80zM783.0 762.0h3.80V772.0h-3.80zM786.8 792.0h3.80V800.0h-3.80zM790.6 807.0h3.80V816.0h-3.80zM794.4 803.0h3.80V814.0h-3.80zM798.2 850.0h3.80V862.0h-3.80zM802.0 802.0h3.80V815.0h-3.80zM805.8 802.0h3.80V815.0h-3.80zM809.6 814.0h3.80V826.0h-3.80z"/>
<path fill="#e6ebff" stroke="#14297a" stroke-width="1.5" d="M779.2 725.0h3.80V729.0h-3.80zM783.0 725.0h3.80V754.0h-3.80zM786.8 725.0h3.80V769.0h-3.80zM790.6 725.0h3.80V787.0h-3.80zM794.4 725.0h3.80V797.0h-3.80zM798.2 725.0h3.80V842.0h-3.80zM802.0 725.0h3.80V794.0h-3.80zM805.8 725.0h3.80V794.0h-3.80zM809.6 725.0h3.80V807.0h-3.80z"/>
<path fill="#ffe3e3" stroke="#e53238" stroke-width="1.4" d="M783.0 675.0h3.80V725.0h-3.80zM786.8 686.0h3.80V725.0h-3.80zM790.6 700.0h3.80V725.0h-3.80zM794.4 701.0h3.80V725.0h-3.80z"/>
<path fill="#fff6d8" stroke="#f3c46a" d="M783.0 648.0h3.80V675.0h-3.80zM786.8 769.0h3.80V788.0h-3.80zM790.6 787.0h3.80V802.0h-3.80z"/>
<path fill="#b5e8fb" stroke="#6ccdf0" d="M786.8 800.0h3.80V805.0h-3.80zM790.6 816.0h3.80V836.0h-3.80zM794.4 814.0h3.80V834.0h-3.80zM798.2 862.0h3.80V876.0h-3.80zM802.0 815.0h3.80V831.0h-3.80zM805.8 815.0h3.80V832.0h-3.80zM809.6 826.0h3.80V846.0h-3.80z"/>
</g>
<g stroke="#444" stroke-width="1.25" fill="none">
<path d="M127.5 236V980H814.5V236"/>
<path d="M117.5 958.5H127.5"/>
<path d="M117.5 841.5H127.5"/>
<path d="M117.5 724.5H127.5"/>
<path d="M117.5 608.5H127.5"/>
<path d="M117.5 491.5H127.5"/>
<path d="M117.5 374.5H127.5"/>
<path d="M117.5 258.5H127.5"/>
<path d="M814.5 958.5H824.5"/>
<path d="M814.5 908.5H824.5"/>
<path d="M814.5 858.5H824.5"/>
<path d="M814.5 808.5H824.5"/>
<path d="M814.5 758.5H824.5"/>
<path d="M814.5 708.5H824.5"/>
<path d="M814.5 658.5H824.5"/>
<path d="M814.5 608.5H824.5"/>
<path d="M814.5 558.5H824.5"/>
<path d="M814.5 508.5H824.5"/>
<path d="M814.5 458.5H824.5"/>
<path d="M814.5 408.5H824.5"/>
<path d="M814.5 358.5H824.5"/>
<path d="M814.5 308.5H824.5"/>
<path d="M814.5 258.5H824.5"/>
<path d="M174.5 980V990"/>
<path d="M266.5 980V990"/>
<path d="M357.5 980V990"/>
<path d="M448.5 980V990"/>
<path d="M539.5 980V990"/>
<path d="M630.5 980V990"/>
<path d="M721.5 980V990"/>
<path d="M812.5 980V990"/>
</g>
<path d="M139.5 982.0 L143.5 720.0 L146.0 604.6 L149.2 639.0 L151.2 590.0 L154.4 440.0 L157.6 323.4 L160.6 355.0 L163.8 440.0 L165.8 488.0 L169.0 531.7 L172.7 511.0 L175.0 590.0 L180.4 661.0 L187.7 625.4 L190.0 700.0 L195.4 813.5 L199.0 693.0 L203.3 741.0 L207.0 700.0 L214.8 590.0 L218.3 491.0 L222.0 548.0 L225.8 476.5 L230.0 577.5 L233.5 576.5 L237.0 577.5 L238.8 590.0 L243.0 700.0 L252.5 889.5 L256.5 829.0 L261.7 827.5 L265.8 801.0 L269.0 700.0 L273.0 590.0 L275.6 531.7 L278.3 590.0 L284.6 706.7 L286.7 656.7 L293.0 716.0 L297.0 698.0 L301.2 696.0 L303.3 658.8 L305.4 596.0 L309.6 625.4 L313.8 567.0 L318.8 613.0 L320.8 616.0 L325.0 581.0 L328.5 585.0 L331.2 615.0 L339.6 658.8 L344.8 631.7 L352.0 598.0 L355.0 575.0 L359.0 644.0 L363.0 575.0 L364.6 621.0 L369.8 652.5 L377.0 655.6 L381.2 639.0 L385.4 663.0 L389.6 662.0 L393.8 690.0 L398.0 696.0 L402.0 725.4 L408.3 692.0 L411.5 708.8 L415.6 667.0 L419.8 683.8 L423.0 686.0 L426.7 656.7 L430.2 688.0 L435.4 798.0 L438.5 745.0 L445.0 744.0 L450.0 821.0 L455.2 740.0 L457.7 662.0 L461.5 719.0 L466.7 713.0 L470.8 658.8 L473.0 605.6 L477.0 600.4 L481.2 642.0 L484.4 692.0 L488.5 679.6 L491.7 650.4 L494.8 665.0 L499.0 640.0 L503.0 634.8 L507.0 600.4 L511.2 597.3 L515.4 616.0 L518.5 617.0 L522.7 642.0 L527.0 629.6 L534.2 623.3 L537.3 613.0 L540.0 587.0 L543.5 590.0 L548.8 673.0 L553.0 679.6 L558.0 702.5 L563.3 731.7 L567.5 690.0 L571.2 653.5 L574.8 706.7 L578.0 733.0 L583.0 804.0 L588.3 752.0 L594.6 725.0 L595.6 715.0 L598.3 627.5 L602.0 695.0 L606.0 555.0 L613.3 676.5 L616.5 670.0 L620.6 676.5 L624.8 592.0 L629.0 626.5 L633.0 638.0 L636.2 681.7 L639.8 856.0 L644.6 768.8 L647.7 754.0 L652.0 755.0 L655.0 725.0 L657.0 640.0 L661.0 530.0 L662.3 453.0 L667.0 590.4 L673.8 496.0 L681.7 592.5 L689.4 450.0 L696.7 590.0 L703.0 561.0 L709.0 634.0 L713.0 630.0 L715.4 659.0 L718.5 636.0 L722.7 723.0 L726.0 759.0 L729.0 759.0 L731.3 688.5 L735.0 822.0 L738.8 840.0 L742.6 936.7 L746.4 806.0 L750.2 818.0 L754.0 941.6 L757.8 800.0 L765.4 676.0 L769.2 679.6 L772.3 661.0 L774.0 640.0 L775.5 600.0 L776.5 563.3" fill="none" stroke="#000" stroke-width="4.2" stroke-linejoin="bevel" stroke-linecap="butt"/><path d="M776.6 562V559M776.7 557.5V547.5M776.8 543.5V540" fill="none" stroke="#000" stroke-width="4"/>
<g font-family="'Liberation Sans', Arial, sans-serif" font-size="35.5" fill="#3d3d3d" stroke="#3d3d3d" stroke-width="0.5">
<text x="107" y="970.0" text-anchor="end">-2</text>
<text x="107" y="853.4" text-anchor="end">-1</text>
<text x="107" y="736.7" text-anchor="end">0</text>
<text x="107" y="620.0" text-anchor="end">1</text>
<text x="107" y="503.4" text-anchor="end">2</text>
<text x="107" y="386.7" text-anchor="end">3</text>
<text x="107" y="270.0" text-anchor="end">4</text>
<text x="885" y="970.0" text-anchor="end">-25</text>
<text x="885" y="920.0" text-anchor="end">-20</text>
<text x="885" y="870.0" text-anchor="end">-15</text>
<text x="885" y="820.0" text-anchor="end">-10</text>
<text x="885" y="770.0" text-anchor="end">-5</text>
<text x="885" y="720.0" text-anchor="end">0</text>
<text x="885" y="670.0" text-anchor="end">5</text>
<text x="885" y="620.0" text-anchor="end">10</text>
<text x="885" y="570.0" text-anchor="end">15</text>
<text x="885" y="520.0" text-anchor="end">20</text>
<text x="885" y="470.0" text-anchor="end">25</text>
<text x="885" y="420.0" text-anchor="end">30</text>
<text x="885" y="370.0" text-anchor="end">35</text>
<text x="885" y="320.0" text-anchor="end">40</text>
<text x="885" y="270.0" text-anchor="end">45</text>
<text x="175.0" y="1027" text-anchor="middle">10</text>
<text x="266.1" y="1027" text-anchor="middle">12</text>
<text x="357.3" y="1027" text-anchor="middle">14</text>
<text x="448.4" y="1027" text-anchor="middle">16</text>
<text x="539.6" y="1027" text-anchor="middle">18</text>
<text x="630.7" y="1027" text-anchor="middle">20</text>
<text x="721.8" y="1027" text-anchor="middle">22</text>
<text x="813.0" y="1027" text-anchor="middle">24</text>
</g>
<path fill="#fff" d="M88.86 850.12H95.98V854.77H88.86zM99.66 850.12H106.46V854.77H99.66zM88.86 616.78H95.98V621.43H88.86zM99.66 616.78H106.46V621.43H99.66zM847.12 866.75H854.24V871.40H847.12zM857.92 866.75H864.72V871.40H857.92zM847.12 816.75H854.24V821.40H847.12zM857.92 816.75H864.72V821.40H857.92zM847.12 616.75H854.24V621.40H847.12zM857.92 616.75H864.72V621.40H857.92zM847.12 566.75H854.24V571.40H847.12zM857.92 566.75H864.72V571.40H857.92zM156.86 1023.75H163.98V1028.40H156.86zM167.66 1023.75H174.46V1028.40H167.66zM248.00 1023.75H255.12V1028.40H248.00zM258.80 1023.75H265.60V1028.40H258.80zM339.14 1023.75H346.26V1028.40H339.14zM349.94 1023.75H356.74V1028.40H349.94zM430.28 1023.75H437.40V1028.40H430.28zM441.08 1023.75H447.88V1028.40H441.08zM521.42 1023.75H528.54V1028.40H521.42zM532.22 1023.75H539.02V1028.40H532.22z"/>
<g font-family="'Liberation Sans', Arial, sans-serif" font-size="34.7" text-anchor="middle" stroke-width="0.5">
<text x="316" y="297" fill="#e840cf" stroke="#e840cf">6m reserves chg</text>
<text x="318" y="337" fill="#e840cf" stroke="#e840cf">($tn)</text>
<text x="700" y="295" fill="#8b0000" stroke="#8b0000">BoC</text>
<text x="685" y="355" fill="#1111cc" stroke="#1111cc">Riksbank</text>
<text x="572" y="403" fill="#7a9a3a" stroke="#7a9a3a">RBA</text>
<text x="738" y="431" fill="#f5a31a" stroke="#f5a31a">PBoC</text>
<text x="597" y="451" fill="#bdbdbd" stroke="#bdbdbd">SNB</text>
<text x="481" y="473" fill="#22b5e5" stroke="#22b5e5">ECB</text>
<text x="603" y="513" fill="#168a16" stroke="#168a16">BoE</text>
<text x="456" y="537" fill="#ee1111" stroke="#ee1111">BoJ</text>
<text x="418" y="861" fill="#000" stroke="#000">MSCI World</text>
<text x="418" y="901" fill="#000" stroke="#000">6m chg (%)</text>
<text x="676" y="894" fill="#132a5a" stroke="#132a5a">Fed</text>
</g>
<g><path d="M368 367.3H288" stroke="#e840cf" stroke-width="2"/><path d="M273.5 367.3l16 -8.5v17z" fill="#e840cf"/>
<path d="M375 952.5H453" stroke="#000" stroke-width="2"/><path d="M469 952.5l-17 -8.5v17z" fill="#000"/></g>
</svg>
</div>
<div class="src">Source: Citi</div>
<svg class="logo" width="86" height="66" viewBox="0 0 86 66">
<defs>
<linearGradient id="lg1" x1="0.05" y1="0.85" x2="0.95" y2="0.15"><stop offset="0" stop-color="#1c86fa"/><stop offset=".35" stop-color="#18aef4"/><stop offset=".62" stop-color="#14cdea"/><stop offset="1" stop-color="#1de9cf"/></linearGradient>
<linearGradient id="lg2" x1="0" y1="0" x2="1" y2="0"><stop offset="0" stop-color="#5fd0ff" stop-opacity="0"/><stop offset=".6" stop-color="#7ff3ff" stop-opacity=".35"/><stop offset="1" stop-color="#39f0e0" stop-opacity=".15"/></linearGradient>
</defs>
<path d="M1.2 24.5H24.1C34 18 40 9.5 47.6 5.9C53 3 58 1.9 63.6 1.9C71 1.9 78 5 83.7 9.9V39.7H59.6C54 45 51 48 47.6 50.6C43 55 38 59 33.8 60.9C30 62.8 26 63.4 22.4 63.4C14 63.4 7 60 1.2 55.2Z" fill="url(#lg1)"/>
<path d="M24.1 24.5H83.7V27.5L59.6 39.7H1.2V37Z" fill="url(#lg2)"/>
</svg>
<div class="brand">SignalPlus</div>
</body>
</html>
